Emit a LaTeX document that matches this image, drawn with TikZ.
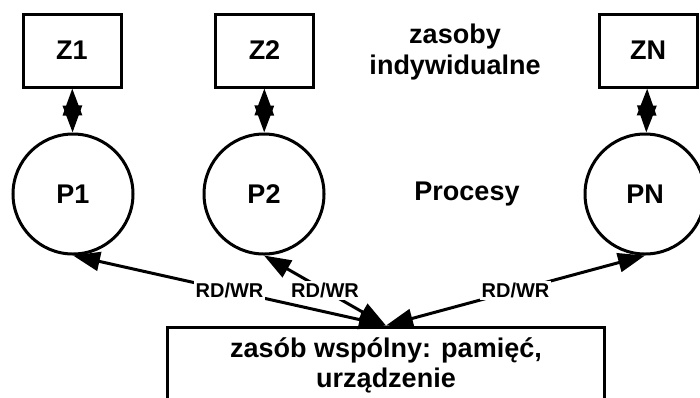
\documentclass[tikz,border=0pt]{standalone}
\usepackage{fontspec}
\setmainfont{Liberation Sans}
\usetikzlibrary{arrows.meta}

\begin{document}
\begin{tikzpicture}[x=0.5pt,y=-0.5pt,
  zas/.style={draw, line width=1.5pt, minimum width=49pt, minimum height=36.5pt, font=\fontsize{13.5}{15.5}\selectfont\bfseries},
  proc/.style={draw, circle, line width=1.5pt, minimum size=60pt, inner sep=0pt, font=\fontsize{13.5}{15}\selectfont\bfseries},
  dbl/.style={line width=1.5pt, {Triangle[length=13.5pt,width=9.5pt]}-{Triangle[length=13.5pt,width=9.5pt]}},
  rw/.style={fill=white, inner sep=1pt, font=\fontsize{10}{11}\selectfont\bfseries}]
\useasboundingbox (0,0) rectangle (700,397);

\node[zas] (z1) at (72,50.5) {Z1};
\node[zas] (z2) at (264.5,50.5) {Z2};
\node[zas] (zn) at (648,50.5) {ZN};
\node[font=\fontsize{13.5}{15.5}\selectfont\bfseries, align=center] (indyw) at (455,52) {zasoby\\indywidualne};

\node[proc] (p1) at (73,194) {P1};
\node[proc] (p2) at (264,194) {P2};
\node[proc] (pn) at (645,194) {PN};
\node[font=\fontsize{13.5}{15}\selectfont\bfseries] (procesy) at (467,194) {Procesy};

\node[draw, line width=1.5pt, minimum width=218.5pt, minimum height=38pt, align=center,
  font=\fontsize{13.5}{15}\selectfont\bfseries] (wsp) at (386,365) {zasób wspólny: pamięć,\\urządzenie};

\path[draw,dbl] (z1) -- (p1);
\path[draw,dbl] (z2) -- (p2);
\path[draw,dbl] (zn) -- (pn);

\path[draw,dbl] (p1.south) -- node[rw] {RD/WR} (wsp.north);
\path[draw,dbl] (p2.south) -- node[rw] {RD/WR} (wsp.north);
\path[draw,dbl] (pn.south) -- node[rw] {RD/WR} (wsp.north);
\end{tikzpicture}
\end{document}
